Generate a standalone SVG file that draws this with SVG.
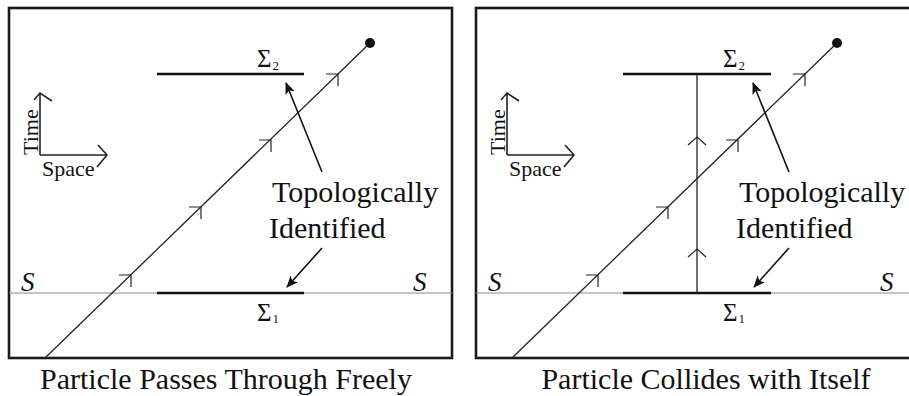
<svg xmlns="http://www.w3.org/2000/svg" width="909" height="396" viewBox="0 0 909 396">
<style>
.box{fill:#fff;stroke:#1a1a1a;stroke-width:2.6}
.sline{stroke:#8a8a8a;stroke-width:1}
.sigma{stroke:#111;stroke-width:2.6}
.path{stroke:#222;stroke-width:1.3;fill:none}
.tick{stroke:#222;stroke-width:1.2;fill:none}
.ptr{stroke:#111;stroke-width:1.6;fill:none}
.ax{stroke:#222;stroke-width:1.6;fill:none}
text{font-family:"Liberation Serif","Times New Roman",serif;fill:#111}
.big{font-size:30px}
.s{font-size:27px;font-style:italic}
.sig{font-size:25px}
.sub{font-size:13px}
.axl{font-size:22px}
</style>
<defs>
<marker id="ah" viewBox="0 0 12 10" refX="11" refY="5" markerWidth="12" markerHeight="10" markerUnits="userSpaceOnUse" orient="auto">
<path d="M0,0 L12,5 L0,10 L3,5 Z" fill="#111"/>
</marker>
<g id="panel">
<rect class="box" x="9" y="8" width="443" height="350"/>
<line class="sline" x1="9" y1="293" x2="452" y2="293"/>
</g>
</defs>

<g id="left-panel">
<use href="#panel"/>
</g>
<g id="right-panel">
<use href="#panel" transform="translate(467,0)"/>
</g>

<g id="left-sigma2">
<line class="sigma" x1="157" y1="74" x2="304" y2="74"/>
<text class="sig" x="257" y="67">Σ<tspan class="sub" dx="1" dy="3">2</tspan></text>
</g>
<g id="left-sigma1">
<line class="sigma" x1="157" y1="293" x2="304" y2="293"/>
<text class="sig" x="257" y="321">Σ<tspan class="sub" dx="1" dy="2">1</tspan></text>
</g>
<g id="left-S">
<text class="s" x="21" y="291">S</text>
<text class="s" x="413" y="291">S</text>
</g>
<g id="left-axes">
<path class="ax" d="M40,155 L40,93 M34,100 L40,93 L52,101 M40,155 L107,155 M98,145 L107,155 L97,167"/>
<text class="axl" transform="translate(38,155) rotate(-90)">Time</text>
<text class="axl" x="42" y="176">Space</text>
</g>
<g id="left-label">
<text class="big" x="272" y="202">Topologically</text>
<text class="big" x="269" y="238">Identified</text>
</g>
<g id="left-caption">
<text class="big" x="226" y="389" text-anchor="middle">Particle Passes Through Freely</text>
</g>

<g id="right-sigma2">
<line class="sigma" x1="623" y1="74" x2="771" y2="74"/>
<text class="sig" x="723" y="67">Σ<tspan class="sub" dx="1" dy="3">2</tspan></text>
</g>
<g id="right-sigma1">
<line class="sigma" x1="623" y1="293" x2="771" y2="293"/>
<text class="sig" x="723" y="321">Σ<tspan class="sub" dx="1" dy="2">1</tspan></text>
</g>
<g id="right-S">
<text class="s" x="488" y="291">S</text>
<text class="s" x="880" y="291">S</text>
</g>
<g id="right-axes">
<path class="ax" d="M507,155 L507,93 M501,100 L507,93 L519,101 M507,155 L574,155 M565,145 L574,155 L564,167"/>
<text class="axl" transform="translate(505,155) rotate(-90)">Time</text>
<text class="axl" x="509" y="176">Space</text>
</g>
<g id="right-label">
<text class="big" x="739" y="202">Topologically</text>
<text class="big" x="736" y="238">Identified</text>
</g>
<g id="right-caption">
<text class="big" x="706" y="389" text-anchor="middle">Particle Collides with Itself</text>
</g>

<g id="connectors">
<g id="left-worldline">
<line class="path" x1="45" y1="358" x2="370" y2="43"/>
<circle cx="370" cy="43" r="5" fill="#111"/>
<path class="tick" d="M326,74 L338,74 L338,86 M259,140 L271,140 L271,152 M189,207 L201,207 L201,219 M119,275 L131,275 L131,287"/>
</g>
<line class="ptr" x1="322" y1="172" x2="286" y2="83" marker-end="url(#ah)"/>
<line class="ptr" x1="322" y1="248" x2="287" y2="287" marker-end="url(#ah)"/>

<g id="right-worldline">
<line class="path" x1="512" y1="358" x2="837" y2="43"/>
<circle cx="837" cy="43" r="5" fill="#111"/>
<path class="tick" d="M793,74 L805,74 L805,86 M726,140 L738,140 L738,152 M656,207 L668,207 L668,219 M586,275 L598,275 L598,287"/>
</g>
<g id="right-loop">
<line class="path" x1="697" y1="74" x2="697" y2="293"/>
<path class="tick" d="M688,145 L697,137 L706,145 M688,257 L697,249 L706,257"/>
</g>
<line class="ptr" x1="789" y1="172" x2="753" y2="83" marker-end="url(#ah)"/>
<line class="ptr" x1="789" y1="248" x2="754" y2="287" marker-end="url(#ah)"/>
</g>
</svg>
